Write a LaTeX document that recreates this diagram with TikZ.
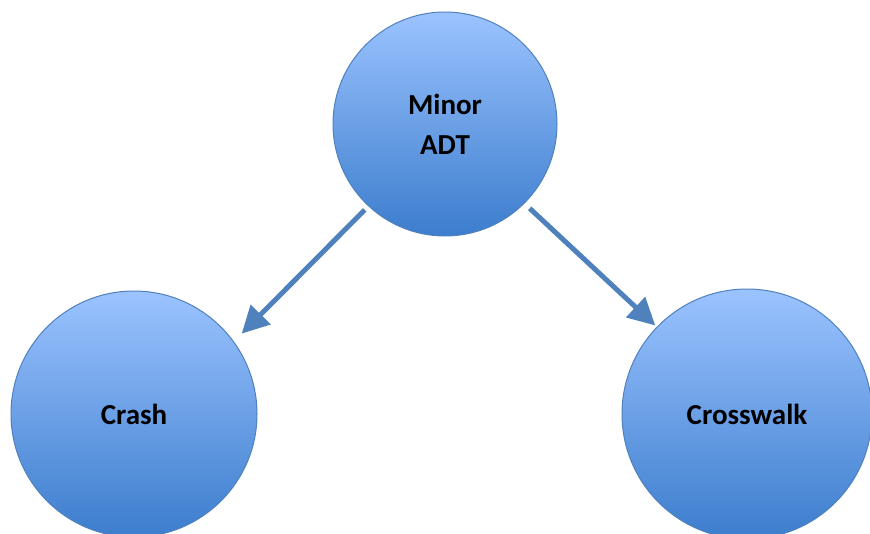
\documentclass[tikz,border=0pt]{standalone}
\usepackage{fontspec}
\setmainfont{Carlito}
\usetikzlibrary{arrows.meta}
\definecolor{topc}{RGB}{155,195,255}
\definecolor{botc}{RGB}{60,125,205}
\definecolor{edgec}{RGB}{79,129,189}
\definecolor{arrowc}{RGB}{79,129,189}
\tikzset{
  bubble/.style={circle, draw=edgec, line width=1pt, top color=topc, bottom color=botc,
    inner sep=0pt, align=center, font=\fontsize{29}{40}\selectfont\bfseries},
  link/.style={draw=arrowc, line width=5pt, -{Triangle[length=27pt,width=27pt]}}
}
\begin{document}
\begin{tikzpicture}[x=1pt,y=-1pt]
\useasboundingbox (0,0) rectangle (870,533);
\node[bubble, minimum size=224pt] (top) at (445,124) {Minor\\ADT};
\node[bubble, minimum size=246pt] (left) at (134,414) {Crash};
\node[bubble, minimum size=250pt] (right) at (747,414) {Crosswalk};
\draw[link, shorten <=5pt, shorten >=11pt] (top.227) -- (left.36);
\draw[link, shorten <=7pt, shorten >=2pt] (top.315) -- (right.136);
\end{tikzpicture}
\end{document}
